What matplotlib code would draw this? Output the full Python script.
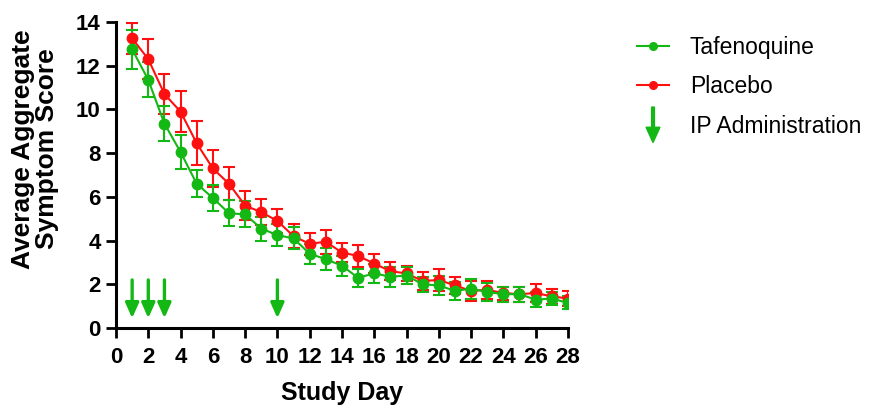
import numpy as np
import matplotlib
matplotlib.use("Agg")
import matplotlib.pyplot as plt
from matplotlib.patches import FancyArrow
from matplotlib.legend_handler import HandlerPatch
from matplotlib.lines import Line2D

plt.rcParams['font.family'] = ['Liberation Sans', 'DejaVu Sans']

days = np.arange(1, 29)
tafenoquine = [12.75, 11.35, 9.35, 8.05, 6.6, 5.95, 5.25, 5.2, 4.55, 4.25, 4.1, 3.4, 3.15, 2.85,
               2.3, 2.5, 2.35, 2.4, 2.0, 1.95, 1.7, 1.8, 1.65, 1.55, 1.55, 1.3, 1.35, 1.15]
taf_err = [0.9, 0.8, 0.8, 0.77, 0.62, 0.6, 0.6, 0.6, 0.55, 0.5, 0.5, 0.45, 0.5, 0.45,
           0.4, 0.45, 0.45, 0.4, 0.35, 0.45, 0.4, 0.45, 0.4, 0.35, 0.35, 0.35, 0.3, 0.3]
placebo = [13.25, 12.3, 10.7, 9.9, 8.45, 7.3, 6.6, 5.6, 5.3, 4.9, 4.2, 3.85, 3.95, 3.45,
           3.3, 2.95, 2.6, 2.5, 2.15, 2.2, 1.95, 1.7, 1.75, 1.6, 1.55, 1.6, 1.45, 1.35]
plac_err = [0.7, 0.9, 0.9, 0.95, 1.0, 0.85, 0.75, 0.65, 0.6, 0.55, 0.55, 0.5, 0.55, 0.45,
            0.5, 0.45, 0.4, 0.35, 0.4, 0.5, 0.4, 0.45, 0.4, 0.3, 0.35, 0.4, 0.35, 0.35]
ip_days = [1, 2, 3, 10]

green = '#14b814'
red = '#ff1010'

fig = plt.figure(figsize=(8.69, 4.07), dpi=100)
ax = fig.add_axes([0.1335, 0.194, 0.52, 0.752])

ax.errorbar(days, placebo, yerr=plac_err, color=red, marker='o', markersize=7.5,
            lw=1.5, elinewidth=1.5, capsize=4, capthick=1.5)
ax.errorbar(days, tafenoquine, yerr=taf_err, color=green, marker='o', markersize=7.5,
            lw=1.5, elinewidth=1.5, capsize=4, capthick=1.5)

for d in ip_days:
    ax.annotate('', xy=(d, 0.45), xytext=(d, 2.2),
                arrowprops=dict(arrowstyle='-|>,head_length=0.9,head_width=0.4',
                                color=green, lw=2.4, shrinkA=0, shrinkB=0))

ax.set_xlim(0, 28)
ax.set_ylim(0, 14)
ax.set_xticks(range(0, 29, 2))
ax.set_yticks(range(0, 15, 2))
for s in ['top', 'right']:
    ax.spines[s].set_visible(False)
for s in ['left', 'bottom']:
    ax.spines[s].set_linewidth(2.2)
ax.tick_params(width=2, length=7, labelsize=16, pad=4)
ax.tick_params(axis='x', pad=7)
for lab in ax.get_xticklabels() + ax.get_yticklabels():
    lab.set_fontweight('bold')
ax.set_xlabel('Study Day', fontsize=18, fontweight='bold', labelpad=9)
ax.set_ylabel('Average Aggregate\nSymptom Score', fontsize=19, fontweight='bold',
              linespacing=1.0)
ax.yaxis.set_label_coords(-0.126, 0.585)


def make_arrow(legend, orig_handle, xdescent, ydescent, width, height, fontsize):
    return FancyArrow(width / 2 - xdescent, height + 7, 0, -height - 14, width=2.0,
                      head_width=10, head_length=11, length_includes_head=True,
                      color=green)


h1 = Line2D([], [], color=green, marker='o', markersize=5.5, lw=1.5)
h2 = Line2D([], [], color=red, marker='o', markersize=5.5, lw=1.5)
h3 = FancyArrow(0, 0, 0, -1, color=green)
fig.legend([h1, h2, h3], ['Tafenoquine', 'Placebo', 'IP Administration'],
           loc='upper left', bbox_to_anchor=(0.733, 0.912), frameon=False,
           borderaxespad=0, borderpad=0,
           fontsize=16.5, handlelength=1.4, handletextpad=0.9, labelspacing=0.72,
           handler_map={FancyArrow: HandlerPatch(patch_func=make_arrow)})

fig.savefig('out.png', dpi=100)
